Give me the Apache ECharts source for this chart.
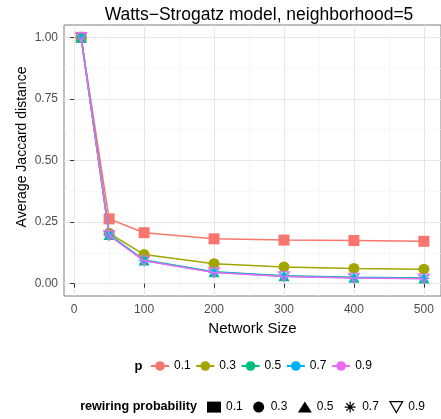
<!DOCTYPE html>
<html>
<head>
<meta charset="utf-8">
<script src="https://cdn.jsdelivr.net/npm/echarts@6/dist/echarts.min.js"></script>
<style>
  html, body { margin: 0; padding: 0; background: #fff; }
  #main { width: 441px; height: 419px; }
</style>
</head>
<body>
<div id="main"></div>
<script>
// data
var networkSizes = [10, 50, 100, 200, 300, 400, 500];
var pLevels = ['0.1', '0.3', '0.5', '0.7', '0.9'];
var dist01 = [1.0, 0.263, 0.207, 0.182, 0.177, 0.175, 0.172];
var dist03 = [1.0, 0.205, 0.118, 0.081, 0.068, 0.062, 0.059];
var dist05 = [1.0, 0.200, 0.096, 0.048, 0.032, 0.026, 0.023];
var dist07 = [1.0, 0.197, 0.094, 0.046, 0.030, 0.024, 0.021];
var dist09 = [1.0, 0.196, 0.093, 0.045, 0.029, 0.023, 0.020];
var xTicks = [0, 100, 200, 300, 400, 500];
var xMinor = [50, 150, 250, 350, 450];
var yTicks = [0, 0.25, 0.5, 0.75, 1];
var yMinor = [0.125, 0.375, 0.625, 0.875];

var colors = ['#F8766D', '#A3A500', '#00BF7D', '#00B0F6', '#E76BF3'];
var allDist = [dist01, dist03, dist05, dist07, dist09];
var font = "'Liberation Sans', Arial, sans-serif";

var starPath = 'path://M5,0L5,10M0,5L10,5M1.5,1.5L8.5,8.5M8.5,1.5L1.5,8.5';
var downTri = 'path://M0,0L10,0L5,8.66Z';
var symbols = ['rect', 'circle', 'triangle', starPath, downTri];
var sizes = [11, 11, 11, 11, 11];

var chart = echarts.init(document.getElementById('main'), null, {renderer: 'canvas'});

var series = [];
// real data series
for (var i = 0; i < pLevels.length; i++) {
    var d = allDist[i];
    var itemStyle = {color: colors[i]};
    if (i >= 3) {
        itemStyle = {color: 'rgba(0,0,0,0)', borderColor: colors[i], borderWidth: 1.2};
    }
    series.push({
        name: 'r' + pLevels[i],
        type: 'line',
        xAxisIndex: 0,
        yAxisIndex: 0,
        data: networkSizes.map(function (x, k) { return [x, d[k]]; }),
        symbol: symbols[i],
        symbolSize: sizes[i],
        symbolKeepAspect: true,
        itemStyle: itemStyle,
        lineStyle: {color: colors[i], width: 1.5},
        emphasis: {disabled: true},
        z: 3 + i
    });
}
// dummy series for the colour legend
for (var j = 0; j < pLevels.length; j++) {
    series.push({
        name: 'p' + pLevels[j],
        type: 'line',
        data: [],
        symbol: 'circle',
        itemStyle: {color: colors[j]},
        lineStyle: {color: colors[j], width: 1.5}
    });
}

var axisLabelStyle = {color: '#4d4d4d', fontSize: 12, fontFamily: font};

var option = {
    animation: false,
    backgroundColor: '#fff',
    title: {
        text: 'Watts\u2212Strogatz model, neighborhood=5',
        left: 254,
        textAlign: 'center',
        top: 1,
        textStyle: {fontSize: 17.5, fontWeight: 'normal', color: '#000', fontFamily: font}
    },
    grid: {
        left: 64, top: 25, right: -2, bottom: 123,
        show: true, borderColor: '#7f7f7f', borderWidth: 1, backgroundColor: '#fff'
    },
    legend: [
        {
            left: 145, top: 355,
            itemWidth: 18, itemHeight: 12, itemGap: 4.6,
            selectedMode: false,
            data: pLevels.map(function (p) { return 'p' + p; }),
            formatter: function (n) { return n.slice(1); },
            textStyle: {fontSize: 12, color: '#000', fontFamily: font}
        },
        {
            left: 202, top: 396,
            itemWidth: 14, itemHeight: 11, itemGap: 10.5,
            selectedMode: false,
            data: [
                {name: 'r0.1', icon: 'rect', itemStyle: {color: '#000'}},
                {name: 'r0.3', icon: 'circle', itemStyle: {color: '#000'}},
                {name: 'r0.5', icon: 'triangle', itemStyle: {color: '#000'}},
                {name: 'r0.7', icon: starPath, itemStyle: {color: 'rgba(0,0,0,0)', borderColor: '#000', borderWidth: 1.2}},
                {name: 'r0.9', icon: downTri, itemStyle: {color: 'rgba(0,0,0,0)', borderColor: '#000', borderWidth: 1.2}}
            ],
            formatter: function (n) { return n.slice(1); },
            textStyle: {fontSize: 12, color: '#000', fontFamily: font}
        }
    ],
    graphic: [
        {type: 'text', x: 138.5, y: 366, style: {text: 'p', font: 'bold 13px ' + font, fill: '#000',
            align: 'center', verticalAlign: 'middle'}},
        {type: 'text', x: 197, y: 407, style: {text: 'rewiring probability', font: 'bold 12.6px ' + font, fill: '#000',
            align: 'right', verticalAlign: 'middle'}},
        {type: 'text', x: 22, y: 147, rotation: Math.PI / 2, style: {text: 'Average Jaccard distance',
            font: '14px ' + font, fill: '#000', align: 'center', verticalAlign: 'middle'}}
    ],
    xAxis: [
        {
            type: 'value', min: -14.5, max: 524.5,
            name: 'Network Size', nameLocation: 'middle', nameGap: 22,
            nameTextStyle: {fontSize: 15, color: '#000', fontFamily: font},
            axisLine: {show: false},
            axisTick: {show: true, length: 4, customValues: xTicks, lineStyle: {color: '#333', width: 1}},
            axisLabel: Object.assign({customValues: xTicks, margin: 8}, axisLabelStyle),
            splitLine: {show: true, lineStyle: {color: '#e6e6e6', width: 1}}
        },
        {
            type: 'value', min: -14.5, max: 524.5, position: 'top',
            axisLine: {show: false},
            axisTick: {show: false, customValues: xMinor},
            axisLabel: {show: false, customValues: xMinor},
            splitLine: {show: true, lineStyle: {color: '#f3f3f3', width: 0.6}}
        }
    ],
    yAxis: [
        {
            type: 'value', min: -0.05, max: 1.05,
            axisLine: {show: false},
            axisTick: {show: true, length: 4, customValues: yTicks, lineStyle: {color: '#333', width: 1}},
            axisLabel: Object.assign({customValues: yTicks, margin: 6,
                formatter: function (v) { return v.toFixed(2); }}, axisLabelStyle),
            splitLine: {show: true, lineStyle: {color: '#e6e6e6', width: 1}}
        },
        {
            type: 'value', min: -0.05, max: 1.05, position: 'right',
            axisLine: {show: false},
            axisTick: {show: false, customValues: yMinor},
            axisLabel: {show: false, customValues: yMinor},
            splitLine: {show: true, lineStyle: {color: '#f3f3f3', width: 0.6}}
        }
    ],
    series: series
};

chart.setOption(option);
</script>
</body>
</html>
